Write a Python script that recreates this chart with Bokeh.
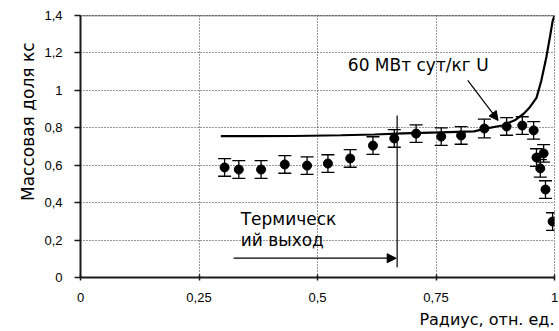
from bokeh.plotting import figure
from bokeh.models import (ColumnDataSource, Whisker, TeeHead, Arrow, NormalHead,
                          Label, Span, FixedTicker, Range1d, Title)
from bokeh.embed import file_html
from bokeh.resources import INLINE

# ---- data ----
r_pts = [0.304, 0.334, 0.381, 0.431, 0.478, 0.522, 0.569, 0.617, 0.662, 0.708, 0.761,
         0.803, 0.852, 0.899, 0.932, 0.956, 0.962, 0.977, 0.970, 0.981, 0.996]
y_pts = [0.588, 0.577, 0.577, 0.604, 0.598, 0.609, 0.636, 0.705, 0.743, 0.769, 0.753,
         0.759, 0.796, 0.807, 0.812, 0.786, 0.641, 0.663, 0.583, 0.470, 0.299]
err = [0.047, 0.047, 0.047, 0.047, 0.047, 0.047, 0.047, 0.047, 0.047, 0.047, 0.047,
       0.047, 0.05, 0.047, 0.047, 0.047, 0.047, 0.047, 0.047, 0.047, 0.047]

r_curve = [0.296, 0.45, 0.55, 0.62, 0.68, 0.76, 0.83, 0.86, 0.89, 0.916, 0.935, 0.948,
           0.962, 0.972, 0.983, 0.990, 0.996, 1.0]
y_curve = [0.755, 0.756, 0.760, 0.764, 0.770, 0.776, 0.781, 0.798, 0.812, 0.84, 0.875,
           0.91, 0.96, 1.05, 1.18, 1.28, 1.37, 1.40]

thermal_x = [0.668]
thermal_y0 = [0.055]
thermal_y1 = [0.866]
arrow_x = [0.323, 0.666]
arrow_y = [0.103]
pointer_start = [0.817, 1.053]
pointer_end = [0.881, 0.839]

x_ticks = [0, 0.25, 0.5, 0.75, 1]
x_tick_labels = ["0", "0,25", "0,5", "0,75", "1"]
y_ticks = [0, 0.2, 0.4, 0.6, 0.8, 1.0, 1.2, 1.4]
y_tick_labels = ["0", "0,2", "0,4", "0,6", "0,8", "1", "1,2", "1,4"]

curve_label = "60 МВт сут/кг U"
thermal_label = ["Термическ", "ий выход"]
x_label = "Радиус, отн. ед."
y_label = "Массовая доля кс"

txt_font = "DejaVu Sans"

# ---- figure ----
p = figure(frame_width=474, frame_height=262, min_border_left=80, min_border_right=5,
           min_border_top=15, min_border_bottom=54,
           x_range=Range1d(0, 1), y_range=Range1d(0, 1.4),
           output_backend="svg", toolbar_location=None)
p.background_fill_color = "white"
p.border_fill_color = "white"
p.outline_line_color = "#333333"
p.outline_line_dash = "1 2"

for ax in (p.xaxis[0], p.yaxis[0]):
    ax.axis_line_color = "#1a1a1a"
    ax.axis_line_width = 2
    ax.major_tick_line_color = "#1a1a1a"
    ax.major_tick_line_width = 1.5
    ax.minor_tick_line_color = None
    ax.major_label_text_font = "Liberation Sans"
    ax.major_label_text_font_size = "13px"
    ax.major_label_text_color = "black"

p.xaxis.ticker = FixedTicker(ticks=x_ticks)
p.xaxis.major_label_overrides = {t: l for t, l in zip(x_ticks, x_tick_labels)}
p.yaxis.ticker = FixedTicker(ticks=y_ticks)
p.yaxis.major_label_overrides = {t: l for t, l in zip(y_ticks, y_tick_labels)}
p.xaxis.major_tick_in = 3
p.xaxis.major_tick_out = 3
p.xaxis.major_label_standoff = 12
p.yaxis.major_tick_in = 0
p.yaxis.major_tick_out = 6
p.yaxis.major_label_standoff = 12

for g in (p.xgrid[0], p.ygrid[0]):
    g.grid_line_color = "#333333"
    g.grid_line_dash = "1 2"
    g.grid_line_width = 1

p.add_layout(Span(location=1.4, dimension="width", line_color="#444444", line_width=1.5))

# axis titles
p.add_layout(Title(text=x_label, align="right", text_font=txt_font, text_font_size="16px",
                   text_font_style="normal", text_color="black", standoff=6, offset=0), "below")
p.add_layout(Title(text=y_label, align="right", text_font=txt_font, text_font_size="17px",
                   text_font_style="normal", text_color="black", standoff=8, offset=27), "left")

# curve
p.line(r_curve, y_curve, line_color="black", line_width=2.2)

# error bars
src = ColumnDataSource(dict(x=r_pts, y=y_pts,
                            lo=[a - b for a, b in zip(y_pts, err)],
                            hi=[a + b for a, b in zip(y_pts, err)]))
w = Whisker(base="x", lower="lo", upper="hi", source=src,
            line_color="black", line_width=1.3,
            upper_head=TeeHead(size=13, line_color="black", line_width=1.3),
            lower_head=TeeHead(size=13, line_color="black", line_width=1.3))
p.add_layout(w)

# markers
p.scatter("x", "y", source=src, marker="circle", size=9, fill_color="black", line_color="black")

# thermal exit line and arrow
p.segment(x0=thermal_x, y0=thermal_y0, x1=thermal_x, y1=thermal_y1, line_color="black", line_width=1.2)
p.add_layout(Arrow(x_start=arrow_x[0], y_start=arrow_y[0], x_end=arrow_x[1], y_end=arrow_y[0],
                   line_color="black", line_width=1.2,
                   end=NormalHead(size=9, fill_color="black", line_color="black")))

# pointer arrow
p.add_layout(Arrow(x_start=pointer_start[0], y_start=pointer_start[1],
                   x_end=pointer_end[0], y_end=pointer_end[1],
                   line_color="black", line_width=1.2,
                   end=NormalHead(size=9, fill_color="black", line_color="black")))

p.add_layout(Label(x=0.564, y=1.133, text=curve_label, text_font=txt_font, text_color="black",
                   text_font_size="17px", text_baseline="middle", text_align="left"))
p.add_layout(Label(x=0.338, y=0.315, text=thermal_label[0], text_font=txt_font, text_color="black",
                   text_font_size="17px", text_baseline="middle", text_align="left"))
p.add_layout(Label(x=0.338, y=0.198, text=thermal_label[1], text_font=txt_font, text_color="black",
                   text_font_size="17px", text_baseline="middle", text_align="left"))

open("out.html", "w").write(file_html(p, INLINE))
